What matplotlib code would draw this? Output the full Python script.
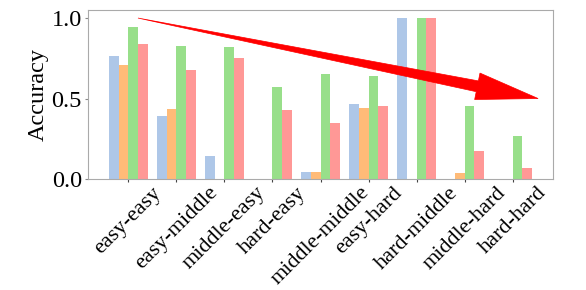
import numpy as np
import matplotlib
matplotlib.use("Agg")
import matplotlib.pyplot as plt
from matplotlib.patches import Polygon

categories = ["easy-easy", "easy-middle", "middle-easy", "hard-easy", "middle-middle",
              "easy-hard", "hard-middle", "middle-hard", "hard-hard"]
blue_vals = [0.764, 0.391, 0.145, 0.0, 0.043, 0.464, 1.0, 0.0, 0.0]
orange_vals = [0.71, 0.437, 0.0, 0.0, 0.043, 0.439, 0.0, 0.035, 0.0]
green_vals = [0.946, 0.826, 0.822, 0.571, 0.652, 0.638, 1.0, 0.455, 0.267]
red_vals = [0.838, 0.675, 0.752, 0.429, 0.348, 0.451, 1.0, 0.176, 0.068]
series = [blue_vals, orange_vals, green_vals, red_vals]
colors = ["#aec7e8", "#ffbb78", "#98df8a", "#ff9896"]
yticks = [0.0, 0.5, 1.0]

plt.rcParams['font.family'] = ['Liberation Serif', 'DejaVu Serif']

fig = plt.figure(figsize=(5.86, 2.90), dpi=100)
ax = fig.add_axes([88/586, 1 - 179/290, (553-88)/586, (179-10)/290])

x = np.arange(len(categories))
w = 0.2
for i, (vals, c) in enumerate(zip(series, colors)):
    ax.bar(x + (i - 1.5) * w, vals, width=w, color=c)

ax.set_xticks(x)
ax.set_xticklabels(categories, rotation=45, fontsize=16)
ax.set_yticks(yticks)
ax.set_yticklabels([f"{v:.1f}" for v in yticks], fontsize=17.5)
ax.set_ylabel("Accuracy", fontsize=17.5, labelpad=2)
for s in ax.spines.values():
    s.set_color("#aaaaaa")
ax.tick_params(axis='x', length=2.5, color="#444444", pad=0.5)
ax.tick_params(axis='y', length=2.5, color="#888888", pad=2)
ax.set_xlim(-0.84, 8.84)
ax.set_ylim(0, 1.05)

# arrow: tapered wedge tail + triangular head, computed in display space
start = np.array(ax.transData.transform((0.2, 1.0)))
tip = np.array(ax.transData.transform((8.53, 0.5)))
d = tip - start
u = d / np.linalg.norm(d)
n = np.array([-u[1], u[0]])
head_len, head_w, tail_w = 62, 27, 11
base = tip - u * head_len
pts = [start,
       base + n * tail_w / 2,
       base + n * head_w / 2,
       tip,
       base - n * head_w / 2,
       base - n * tail_w / 2]
poly = Polygon(pts, closed=True, facecolor="red", edgecolor="red", lw=0.5,
               transform=None, clip_on=False, zorder=5)
fig.patches.append(poly)

fig.savefig("out.png", dpi=100)
